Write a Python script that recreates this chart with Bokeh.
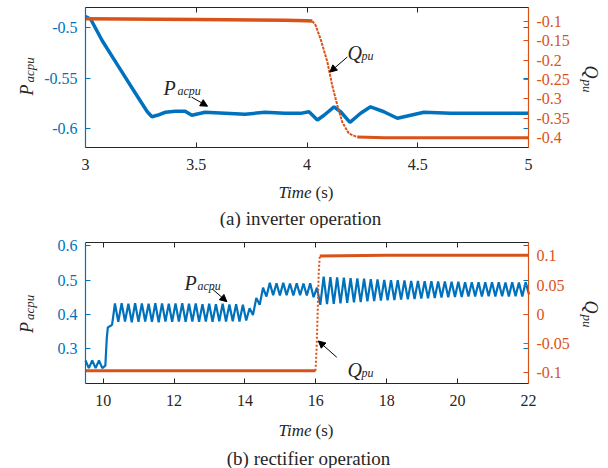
import numpy as np
from bokeh.plotting import figure
from bokeh.models import Range1d, LinearAxis, FixedTicker, Label, Arrow, NormalHead
from bokeh.layouts import column
from bokeh.embed import file_html
from bokeh.resources import INLINE

BLUE = "#0072BD"
ORANGE = "#D95319"
DARK = "#262626"
FONT = "Liberation Serif"
W = 608

# ---------------- (a) inverter operation ----------------
a_x_ticks = [3, 3.5, 4, 4.5, 5]
a_x_labels = ["3", "3.5", "4", "4.5", "5"]
a_p_ticks = [-0.6, -0.55, -0.5]
a_p_labels = ["-0.6", "-0.55", "-0.5"]
a_q_ticks = [-0.4, -0.35, -0.3, -0.25, -0.2, -0.15, -0.1]
a_q_labels = ["-0.4", "-0.35", "-0.3", "-0.25", "-0.2", "-0.15", "-0.1"]

a_p_time = [3.00, 3.023, 3.075, 3.15, 3.226, 3.279, 3.30, 3.324, 3.361, 3.406,
            3.45, 3.48, 3.54, 3.63, 3.72, 3.81, 3.90, 3.971, 4.009, 4.047,
            4.077, 4.122, 4.152, 4.194, 4.242, 4.287, 4.347, 4.408, 4.468, 4.528,
            4.649, 4.799, 5.0]
a_p_val = [-0.489, -0.4914, -0.5128, -0.539, -0.5654, -0.5835, -0.5885, -0.587, -0.584, -0.583,
           -0.583, -0.587, -0.584, -0.585, -0.586, -0.584, -0.585, -0.5851, -0.5835, -0.5917,
           -0.587, -0.5786, -0.5835, -0.594, -0.585, -0.5786, -0.5835, -0.590, -0.587, -0.584,
           -0.585, -0.585, -0.585]

a_q_time = [3.0, 3.5, 3.9, 4.0, 4.024, 4.039, 4.061, 4.092, 4.114, 4.137,
            4.159, 4.189, 4.227, 4.35, 5.0]
a_q_val = [-0.093, -0.095, -0.097, -0.098, -0.099, -0.110, -0.145, -0.205, -0.266, -0.317,
           -0.360, -0.390, -0.399, -0.401, -0.401]

# ---------------- (b) rectifier operation ----------------
b_x_ticks = [10, 12, 14, 16, 18, 20, 22]
b_x_labels = ["10", "12", "14", "16", "18", "20", "22"]
b_p_ticks = [0.3, 0.4, 0.5, 0.6]
b_p_labels = ["0.3", "0.4", "0.5", "0.6"]
b_q_ticks = [-0.1, -0.05, 0, 0.05, 0.1]
b_q_labels = ["-0.1", "-0.05", "0", "0.05", "0.1"]

b_p_time = [9.50, 9.595, 9.69, 9.785, 9.88, 9.975, 10.06, 10.10, 10.13, 10.20, 10.25, 10.29,
            10.33, 10.425, 10.52, 10.615, 10.71, 10.805, 10.90, 10.995, 11.09, 11.185,
            11.28, 11.375, 11.47, 11.565, 11.66, 11.755, 11.85, 11.945, 12.04, 12.135,
            12.23, 12.325, 12.42, 12.515, 12.61, 12.705, 12.80, 12.895, 12.99, 13.085,
            13.18, 13.275, 13.37, 13.465, 13.56, 13.655, 13.75, 13.845, 13.94, 14.035,
            14.13, 14.225, 14.32, 14.415, 14.51, 14.605, 14.70, 14.795, 14.89, 14.985,
            15.08, 15.175, 15.27, 15.365, 15.46, 15.555, 15.65, 15.745, 15.84, 15.935,
            16.03, 16.125, 16.22, 16.315, 16.41, 16.505, 16.60, 16.695, 16.79, 16.885,
            16.98, 17.075, 17.17, 17.265, 17.36, 17.455, 17.55, 17.645, 17.74, 17.835,
            17.93, 18.025, 18.12, 18.215, 18.31, 18.405, 18.50, 18.595, 18.69, 18.785,
            18.88, 18.975, 19.07, 19.165, 19.26, 19.355, 19.45, 19.545, 19.64, 19.735,
            19.83, 19.925, 20.02, 20.115, 20.21, 20.305, 20.40, 20.495, 20.59, 20.685,
            20.78, 20.875, 20.97, 21.065, 21.16, 21.255, 21.35, 21.445, 21.54, 21.635,
            21.73, 21.825, 21.92, 22.015]
b_p_val = [0.265, 0.243, 0.265, 0.243, 0.265, 0.243, 0.25, 0.33, 0.362, 0.366, 0.37, 0.40,
           0.432, 0.378, 0.433, 0.379, 0.431, 0.377, 0.433, 0.378, 0.432, 0.379,
           0.431, 0.378, 0.433, 0.377, 0.432, 0.379, 0.431, 0.378, 0.432, 0.379,
           0.433, 0.378, 0.431, 0.379, 0.432, 0.378, 0.430, 0.379, 0.431, 0.378,
           0.430, 0.380, 0.431, 0.379, 0.429, 0.380, 0.430, 0.379, 0.428, 0.382,
           0.418, 0.398, 0.448, 0.428, 0.478, 0.452, 0.492, 0.456, 0.491, 0.455,
           0.492, 0.456, 0.490, 0.455, 0.491, 0.456, 0.490, 0.455, 0.491, 0.450,
           0.478, 0.428, 0.510, 0.430, 0.509, 0.431, 0.508, 0.432, 0.507, 0.434,
           0.506, 0.435, 0.505, 0.436, 0.504, 0.438, 0.503, 0.439, 0.502, 0.440,
           0.501, 0.441, 0.500, 0.442, 0.500, 0.443, 0.499, 0.444, 0.498, 0.445,
           0.498, 0.446, 0.497, 0.447, 0.497, 0.448, 0.496, 0.449, 0.496, 0.450,
           0.495, 0.451, 0.495, 0.451, 0.494, 0.452, 0.494, 0.452, 0.494, 0.452,
           0.494, 0.453, 0.494, 0.452, 0.494, 0.453, 0.493, 0.452, 0.494, 0.453,
           0.493, 0.452, 0.494, 0.458]

b_q_time = [9.5, 12.0, 15.99, 16.02, 16.05, 16.08, 16.11, 18.0, 22.0]
b_q_val = [-0.097, -0.097, -0.097, -0.06, 0.0, 0.07, 0.1, 0.101, 0.101]


def extend(lo_hi_at_box, box_a, box_b, total):
    """Range whose values lo_hi_at_box sit at pixel box_a / box_b of a span 0..total."""
    v0, v1 = lo_hi_at_box
    k = (v1 - v0) / (box_b - box_a)
    return Range1d(v0 - box_a * k, v1 + (total - box_b) * k)


def style_axis(ax, color, standoff, labels=True, line=True):
    ax.axis_line_color = color if line else None
    ax.axis_line_width = 1.2
    ax.major_tick_line_color = color
    ax.major_tick_line_width = 1.2 if color == BLUE else 1
    ax.major_tick_in = 5
    ax.major_tick_out = 0
    ax.minor_tick_line_color = None
    ax.major_label_text_color = color if labels else None
    ax.major_label_text_font = FONT
    ax.major_label_text_font_size = "16px"
    ax.major_label_standoff = standoff


def panel(H, box, xr, yl, yr, xt, xl, pt, pl, qt, ql):
    L, R, T, B = box
    p = figure(width=W, height=H,
               x_range=extend(xr, L, R, W),
               y_range=extend((yl[1], yl[0]), T, B, H),
               x_axis_type=None, y_axis_type=None, min_border=0,
               output_backend="svg", toolbar_location=None,
               background_fill_color="white", border_fill_color="white",
               outline_line_color=None)
    p.y_range.start, p.y_range.end = p.y_range.end, p.y_range.start
    p.grid.visible = False
    q = extend((yr[1], yr[0]), T, B, H)
    q.start, q.end = q.end, q.start
    p.extra_y_ranges = {"q": q}

    bottom = LinearAxis(ticker=FixedTicker(ticks=xt), fixed_location=yl[0], bounds=xr)
    bottom.major_label_overrides = dict(zip(xt, xl))
    style_axis(bottom, DARK, 11)
    p.add_layout(bottom, "below")
    top = LinearAxis(ticker=FixedTicker(ticks=xt), fixed_location=yl[1], bounds=xr)
    style_axis(top, DARK, 0, labels=False)
    p.add_layout(top, "above")

    left = LinearAxis(ticker=FixedTicker(ticks=pt), fixed_location=xr[0], bounds=yl)
    left.major_label_overrides = dict(zip(pt, pl))
    style_axis(left, BLUE, 8)
    p.add_layout(left, "left")
    mirror = LinearAxis(ticker=FixedTicker(ticks=pt), fixed_location=xr[1], bounds=yl)
    style_axis(mirror, BLUE, 0, labels=False, line=False)
    p.add_layout(mirror, "right")

    right = LinearAxis(y_range_name="q", ticker=FixedTicker(ticks=qt), fixed_location=xr[1],
                       bounds=yr)
    right.major_label_overrides = dict(zip(qt, ql))
    style_axis(right, ORANGE, 8)
    p.add_layout(right, "right")
    return p


def text(p, H, X, Y, s, size, italic=False, angle=0.0, align="left"):
    """Text placed at picture pixel (X, Y) measured from the panel's top-left corner."""
    p.add_layout(Label(x=X, y=H - Y, x_units="screen", y_units="screen", text=s,
                       text_font=FONT, text_font_size=f"{size}px",
                       text_font_style="italic" if italic else "normal",
                       angle=angle, text_align=align, text_baseline="alphabetic",
                       text_color=DARK))


head = dict(size=7, fill_color="black", line_color="black", line_width=1)

# ---------- panel (a) ----------
HA = 228
pa = panel(HA, (85, 528, 7, 147), (3, 5), (-0.619, -0.480), (-0.426, -0.064),
           a_x_ticks, a_x_labels, a_p_ticks, a_p_labels, a_q_ticks, a_q_labels)
pa.line(a_p_time, a_p_val, line_color=BLUE, line_width=3.5)
pa.line(a_q_time[:5], a_q_val[:5], y_range_name="q", line_color=ORANGE, line_width=3.5)
pa.line(a_q_time[4:13], a_q_val[4:13], y_range_name="q", line_color=ORANGE, line_width=2,
        line_dash="3 1")
pa.line(a_q_time[12:], a_q_val[12:], y_range_name="q", line_color=ORANGE, line_width=3)
pa.add_layout(Arrow(end=NormalHead(**head), x_start=3.479, y_start=-0.569, x_end=3.551,
                    y_end=-0.578, line_width=1, line_color="black"))
pa.add_layout(Arrow(end=NormalHead(**head), x_start=4.182, y_start=-0.192, x_end=4.103,
                    y_end=-0.231, line_width=1, line_color="black", y_range_name="q"))
text(pa, HA, 163, 87, "P", 20, italic=True)
text(pa, HA, 177, 90, "acpu", 12, italic=True)
text(pa, HA, 347, 52, "Q", 20, italic=True)
text(pa, HA, 361, 55, "pu", 12, italic=True)
text(pa, HA, 26, 95, "P", 18, italic=True, angle=np.pi / 2)
text(pa, HA, 29, 82, "acpu", 13, italic=True, angle=np.pi / 2)
text(pa, HA, 590, 65, "Q", 18, italic=True, angle=-np.pi / 2)
text(pa, HA, 587, 79, "pu", 13, italic=True, angle=-np.pi / 2)
text(pa, HA, 311, 192, "Time", 17, italic=True, align="right")
text(pa, HA, 315, 192, "(s)", 17)
text(pa, HA, 300, 218, "(a) inverter operation", 19, align="center")

# ---------- panel (b) ----------
HB = 240
pb = panel(HB, (85, 528, 14, 155), (9.5, 22), (0.198, 0.61), (-0.119, 0.123),
           b_x_ticks, b_x_labels, b_p_ticks, b_p_labels, b_q_ticks, b_q_labels)
pb.line(b_p_time, b_p_val, line_color=BLUE, line_width=2.2)
pb.line(b_q_time[:3], b_q_val[:3], y_range_name="q", line_color=ORANGE, line_width=3)
pb.line(b_q_time[2:7], b_q_val[2:7], y_range_name="q", line_color=ORANGE, line_width=2,
        line_dash="2 2")
pb.line(b_q_time[6:], b_q_val[6:], y_range_name="q", line_color=ORANGE, line_width=3)
pb.add_layout(Arrow(end=NormalHead(**head), x_start=13.07, y_start=0.475, x_end=13.49,
                    y_end=0.437, line_width=1, line_color="black"))
pb.add_layout(Arrow(end=NormalHead(**head), x_start=16.59, y_start=-0.074, x_end=16.07,
                    y_end=-0.046, line_width=1, line_color="black", y_range_name="q"))
text(pb, HB, 184, 54, "P", 20, italic=True)
text(pb, HB, 197, 57, "acpu", 12, italic=True)
text(pb, HB, 347, 141, "Q", 20, italic=True)
text(pb, HB, 361, 144, "pu", 12, italic=True)
text(pb, HB, 26, 104.5, "P", 18, italic=True, angle=np.pi / 2)
text(pb, HB, 29, 91.5, "acpu", 13, italic=True, angle=np.pi / 2)
text(pb, HB, 590, 72, "Q", 18, italic=True, angle=-np.pi / 2)
text(pb, HB, 587, 86, "pu", 13, italic=True, angle=-np.pi / 2)
text(pb, HB, 311, 202, "Time", 17, italic=True, align="right")
text(pb, HB, 315, 202, "(s)", 17)
text(pb, HB, 308, 230, "(b) rectifier operation", 19, align="center")

layout = column(pa, pb, spacing=0)
open("out.html", "w").write(file_html(layout, INLINE))
